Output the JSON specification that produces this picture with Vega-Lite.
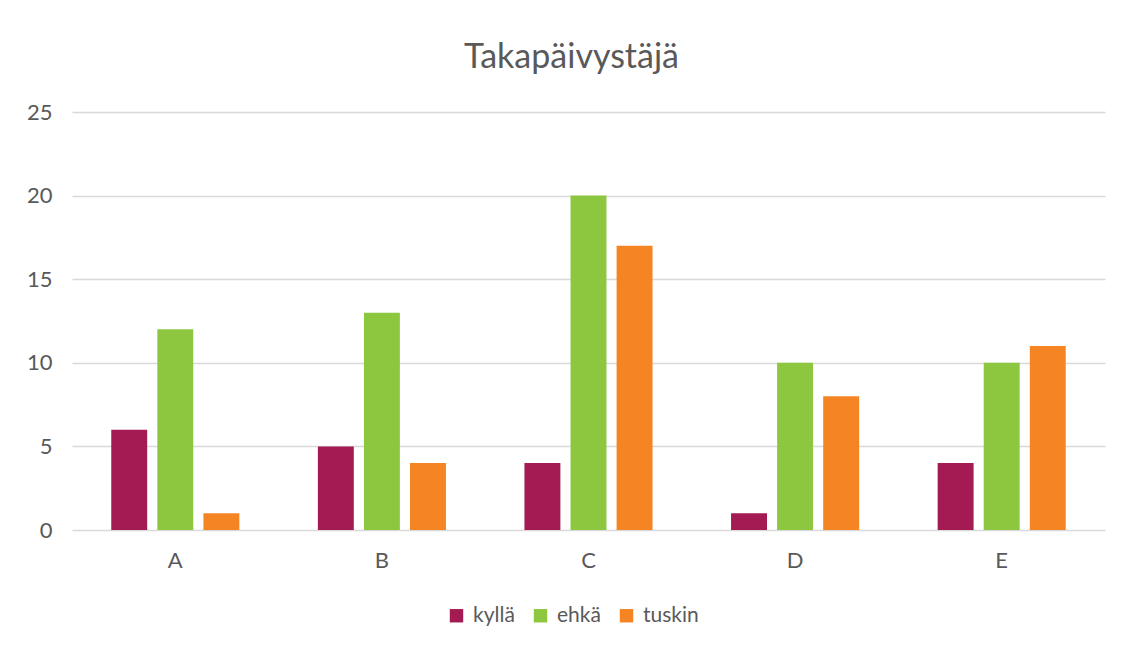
{
  "$schema": "https://vega.github.io/schema/vega-lite/v6.json",
  "autosize": {"type": "none"},
  "padding": {"left": 72, "top": 112, "right": 17, "bottom": 116},
  "width": 1033,
  "height": 418,
  "background": "white",
  "title": {
    "text": "Takapäivystäjä",
    "font": "Lato",
    "fontSize": 34,
    "fontWeight": "normal",
    "color": "#595959",
    "offset": 26,
    "dx": -17
  },
  "data": {
    "values": [
      {"cat": "A", "series": "kyllä", "value": 6},
      {"cat": "A", "series": "ehkä", "value": 12},
      {"cat": "A", "series": "tuskin", "value": 1},
      {"cat": "B", "series": "kyllä", "value": 5},
      {"cat": "B", "series": "ehkä", "value": 13},
      {"cat": "B", "series": "tuskin", "value": 4},
      {"cat": "C", "series": "kyllä", "value": 4},
      {"cat": "C", "series": "ehkä", "value": 20},
      {"cat": "C", "series": "tuskin", "value": 17},
      {"cat": "D", "series": "kyllä", "value": 1},
      {"cat": "D", "series": "ehkä", "value": 10},
      {"cat": "D", "series": "tuskin", "value": 8},
      {"cat": "E", "series": "kyllä", "value": 4},
      {"cat": "E", "series": "ehkä", "value": 10},
      {"cat": "E", "series": "tuskin", "value": 11}
    ]
  },
  "mark": {"type": "bar"},
  "encoding": {
    "x": {
      "field": "cat",
      "type": "nominal",
      "title": null,
      "scale": {"paddingInner": 0.38, "paddingOuter": 0.19},
      "axis": {
        "labelAngle": 0,
        "labelFont": "Lato",
        "labelFontSize": 22,
        "labelColor": "#595959",
        "labelPadding": 20,
        "ticks": false,
        "domain": false,
        "grid": false
      }
    },
    "xOffset": {
      "field": "series",
      "type": "nominal",
      "sort": ["kyllä", "ehkä", "tuskin"],
      "scale": {"paddingInner": 0.22}
    },
    "y": {
      "field": "value",
      "type": "quantitative",
      "title": null,
      "scale": {"domain": [0, 25]},
      "axis": {
        "values": [0, 5, 10, 15, 20, 25],
        "labelFont": "Lato",
        "labelFontSize": 22,
        "labelColor": "#595959",
        "labelPadding": 20,
        "ticks": false,
        "domain": false,
        "grid": true,
        "gridColor": "#d9d9d9",
        "gridWidth": 1.5
      }
    },
    "color": {
      "field": "series",
      "type": "nominal",
      "sort": ["kyllä", "ehkä", "tuskin"],
      "scale": {
        "domain": ["kyllä", "ehkä", "tuskin"],
        "range": ["#A31B52", "#8DC63F", "#F58522"]
      },
      "legend": {
        "title": null,
        "orient": "none",
        "legendX": 374,
        "legendY": 493,
        "direction": "horizontal",
        "symbolType": "square",
        "symbolSize": 180,
        "symbolStrokeWidth": 0,
        "labelFont": "Lato",
        "labelFontSize": 21,
        "labelColor": "#595959",
        "labelOffset": 6,
        "columnPadding": 15
      }
    }
  },
  "config": {
    "view": {"stroke": null}
  }
}
